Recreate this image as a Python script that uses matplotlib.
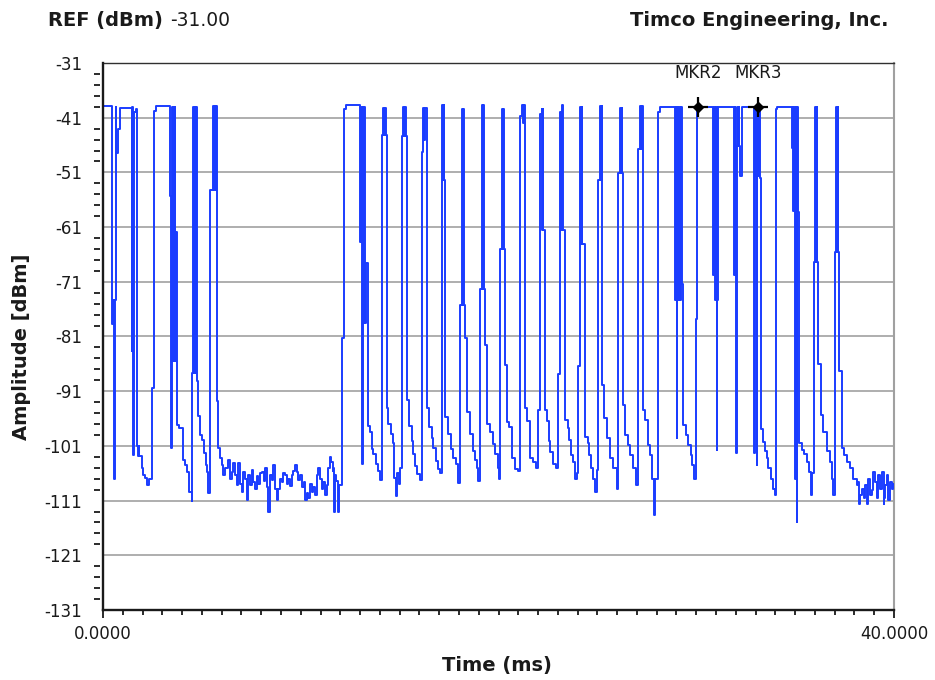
"""Time-domain sweep chart (Timco Engineering style): amplitude in dBm vs time in ms."""
import matplotlib
matplotlib.use("Agg")
import matplotlib.pyplot as plt  # noqa: E402
from matplotlib.ticker import FixedLocator, MultipleLocator  # noqa: E402

# ---- trace data (steps: level holds until the next time) ----
# first bursts, 0 - 6.2 ms
burst_ms = [
    0.00, 0.44, 0.50, 0.54, 0.60, 0.64, 0.68, 0.74, 0.84, 1.45,
    1.48, 1.50, 1.53, 1.58, 1.66, 1.72, 1.76, 1.80, 1.84, 1.96,
    2.04, 2.12, 2.21, 2.34, 2.46, 2.58, 2.68, 3.39, 3.45, 3.50,
    3.53, 3.56, 3.59, 3.62, 3.65, 3.69, 3.76, 3.86, 4.03, 4.15,
    4.27, 4.37, 4.49, 4.52, 4.57, 4.61, 4.65, 4.69, 4.72, 4.74,
    4.82, 4.91, 4.99, 5.11, 5.21, 5.28, 5.33, 5.41, 5.58, 5.62,
    5.66, 5.70, 5.73, 5.75, 5.83, 5.92, 6.00, 6.09, 6.17]
burst_dbm = [
    -38.9, -78.7, -74.4, -107.0, -74.4, -39.0, -47.4, -43.0, -39.2, -83.6,
    -39.0, -83.6, -102.7, -40.0, -39.5, -101.1, -102.9, -101.1, -102.9, -105.0,
    -106.3, -106.9, -108.2, -107.0, -90.4, -39.8, -38.9, -55.4, -101.4, -39.0,
    -85.5, -39.0, -85.5, -39.0, -85.5, -61.9, -97.1, -97.7, -103.5, -104.5,
    -105.7, -109.4, -111.0, -87.6, -39.0, -87.6, -39.0, -87.6, -39.0, -89.2,
    -95.6, -99.0, -99.9, -102.3, -104.5, -105.7, -109.7, -54.2, -38.9, -54.2,
    -38.9, -54.2, -38.9, -92.8, -101.4, -103.3, -104.5, -106.3, -105.1]

# quiet noise floor, 6.2 - 12 ms
floor_ms = [
    6.26, 6.34, 6.42, 6.51, 6.59, 6.68, 6.76, 6.85, 6.93, 7.02,
    7.10, 7.18, 7.27, 7.35, 7.44, 7.52, 7.61, 7.69, 7.78, 7.86,
    7.95, 8.03, 8.12, 8.20, 8.28, 8.36, 8.45, 8.53, 8.62, 8.70,
    8.79, 8.87, 8.96, 9.04, 9.12, 9.21, 9.29, 9.38, 9.46, 9.55,
    9.63, 9.71, 9.80, 9.88, 9.97, 10.05, 10.14, 10.22, 10.30, 10.39,
    10.47, 10.56, 10.64, 10.73, 10.81, 10.89, 10.98, 11.06, 11.15, 11.23,
    11.32, 11.40, 11.48, 11.53, 11.57, 11.62, 11.65, 11.70, 11.74, 11.80,
    11.87, 11.91, 12.00]
floor_dbm = [
    -105.1, -103.6, -107.0, -105.7, -104.2, -106.3, -108.2, -104.2, -107.9, -109.4,
    -105.7, -107.0, -110.9, -106.3, -108.2, -105.4, -107.6, -108.8, -106.5, -107.9,
    -106.0, -105.7, -107.5, -105.1, -108.5, -113.1, -106.3, -107.3, -104.5, -108.8,
    -110.9, -108.8, -107.0, -107.6, -106.0, -106.3, -107.9, -107.0, -108.4, -106.3,
    -105.5, -104.5, -105.7, -107.2, -106.3, -108.5, -107.6, -110.9, -109.7, -110.6,
    -108.0, -109.4, -108.5, -110.0, -106.3, -105.1, -107.0, -108.8, -107.6, -110.0,
    -108.2, -105.1, -103.0, -104.0, -103.9, -105.5, -105.1, -113.1, -106.3, -107.5,
    -113.1, -108.2, -108.2]

# pulse train, 12 - 28 ms
train_ms = [
    12.07, 12.19, 12.30, 13.00, 13.06, 13.10, 13.13, 13.17, 13.20, 13.24,
    13.28, 13.40, 13.50, 13.59, 13.67, 13.81, 13.93, 14.01,
    14.09, 14.14, 14.20, 14.25, 14.30, 14.35, 14.43, 14.55, 14.65, 14.72, 14.82, 14.86, 14.95, 15.02,
    15.11, 15.19, 15.24, 15.28, 15.32, 15.39, 15.49, 15.61, 15.70, 15.78, 15.90, 16.05,
    16.12, 16.16, 16.20, 16.25, 16.29, 16.37, 16.51, 16.62, 16.71, 16.84, 16.96, 17.06,
    17.13, 17.18, 17.22, 17.26, 17.30, 17.47, 17.58, 17.72, 17.85, 17.97,
    18.06, 18.14, 18.19, 18.23, 18.27, 18.31, 18.43, 18.56, 18.70, 18.82, 18.90, 18.98,
    19.07, 19.15, 19.20, 19.24, 19.28, 19.32, 19.44, 19.57, 19.71, 19.83, 19.95, 20.02,
    20.08, 20.16, 20.21, 20.25, 20.29, 20.33, 20.45, 20.55, 20.67, 20.84, 21.01,
    21.09, 21.18, 21.24, 21.29, 21.35, 21.43, 21.60, 21.75, 21.90,
    22.02, 22.10, 22.19, 22.22, 22.25, 22.27, 22.36, 22.44, 22.53, 22.61, 22.78, 22.92,
    23.03, 23.12, 23.16, 23.20, 23.24, 23.36, 23.49, 23.56, 23.66, 23.78, 23.87, 23.95,
    24.03, 24.12, 24.16, 24.20, 24.24, 24.37, 24.51, 24.57, 24.68, 24.79, 24.88, 24.96,
    25.01, 25.13, 25.17, 25.21, 25.25, 25.35, 25.47, 25.64, 25.81, 25.97,
    26.06, 26.14, 26.18, 26.22, 26.26, 26.31, 26.40, 26.53, 26.65, 26.82, 26.94,
    27.04, 27.15, 27.20, 27.24, 27.32, 27.41, 27.54, 27.66, 27.78, 27.88, 27.92]
train_dbm = [
    -81.3, -39.5, -38.7, -63.8, -39.0, -104.4, -39.0, -78.5, -39.0, -78.5,
    -67.5, -97.3, -98.5, -101.6, -102.5, -104.4, -105.6, -107.2,
    -44.1, -39.2, -44.1, -39.2, -44.1, -94.0, -97.0, -98.8, -100.4, -106.8, -110.2, -106.0, -108.0, -105.0,
    -44.4, -39.0, -44.4, -39.0, -44.4, -92.7, -97.3, -100.1, -102.5, -104.7, -106.2, -107.2,
    -47.2, -43.5, -39.2, -45.0, -39.2, -94.0, -97.6, -99.5, -101.3, -103.8, -105.3, -106.0,
    -38.7, -52.4, -38.7, -52.4, -95.8, -98.8, -101.6, -103.2, -104.4, -107.8,
    -75.2, -39.5, -75.2, -39.5, -75.2, -81.3, -94.8, -98.8, -101.9, -103.5, -105.0, -107.5,
    -72.4, -38.7, -72.4, -38.7, -72.4, -82.5, -97.0, -98.5, -100.7, -102.5, -105.0, -107.0,
    -65.0, -39.5, -65.0, -39.5, -65.0, -86.2, -96.7, -97.6, -103.2, -105.3, -105.6,
    -40.7, -38.7, -42.0, -38.7, -94.0, -96.4, -103.2, -104.0, -105.0,
    -94.5, -40.4, -39.5, -61.6, -39.5, -61.6, -94.5, -96.4, -100.1, -102.2, -104.4, -105.0,
    -87.8, -40.0, -61.6, -38.7, -61.6, -96.2, -97.7, -99.9, -102.7, -103.9, -107.0, -106.0,
    -86.4, -39.0, -64.0, -39.0, -64.0, -99.3, -100.5, -102.7, -105.1, -107.0, -109.4, -105.4,
    -52.3, -38.8, -52.3, -38.8, -89.8, -95.9, -99.6, -103.3, -105.1, -108.8,
    -51.1, -39.2, -51.1, -39.2, -51.1, -93.5, -99.0, -100.8, -102.7, -105.1, -108.2,
    -46.8, -38.8, -46.8, -38.8, -94.4, -96.2, -100.8, -102.7, -107.0, -113.7, -107.0]

# long block around the markers, 28 - 34.8 ms
block_ms = [
    28.05, 28.17, 28.93, 28.97, 29.01, 29.05, 29.10, 29.14, 29.19, 29.23,
    29.26, 29.32, 29.46, 29.60, 29.73, 29.80, 29.90, 29.97, 30.05, 30.86,
    30.92, 30.96, 31.00, 31.03, 31.07, 31.10, 31.91, 31.95, 31.98, 32.01,
    32.05, 32.10, 32.14, 32.18, 32.22, 32.30, 32.92, 32.96, 33.00, 33.04,
    33.06, 33.09, 33.13, 33.17, 33.21, 33.26, 33.40, 33.48, 33.57, 33.65,
    33.77, 33.90, 33.99, 34.02, 34.07]
block_dbm = [
    -40.0, -39.0, -74.4, -39.0, -99.6, -39.0, -74.4, -39.0, -74.4, -39.0,
    -71.4, -97.1, -99.0, -100.8, -102.7, -104.5, -107.0, -77.8, -39.0, -69.8,
    -39.0, -74.4, -39.0, -101.7, -74.4, -39.0, -69.8, -39.0, -46.2, -102.3,
    -39.0, -46.2, -39.0, -46.2, -51.7, -39.0, -102.3, -39.0, -51.7, -39.0,
    -104.5, -39.0, -51.7, -39.0, -52.0, -98.0, -100.2, -102.0, -103.3, -105.1,
    -107.0, -108.8, -110.0, -39.5, -39.0]

# last pulses and tail floor, 34.8 - 40 ms
tail_ms = [
    34.83, 34.87, 34.91, 34.95, 35.00, 35.04, 35.08, 35.12, 35.17, 35.22,
    35.35, 35.45, 35.62, 35.72, 35.79, 35.86, 35.93, 36.00, 36.05, 36.09,
    36.13, 36.18, 36.30, 36.43, 36.60, 36.74, 36.85, 36.94, 37.02, 37.07,
    37.11, 37.15, 37.19, 37.24, 37.36, 37.48, 37.61, 37.78, 37.95, 38.12,
    38.20, 38.24, 38.29, 38.37, 38.46, 38.54, 38.62, 38.66, 38.71, 38.79,
    38.88, 38.96, 39.05, 39.13, 39.21, 39.30, 39.38, 39.47, 39.51, 39.55,
    39.64, 39.72, 39.80, 39.89, 39.97, 40.00]
tail_dbm = [
    -46.5, -39.0, -58.0, -39.0, -107.0, -39.0, -114.9, -39.0, -58.2, -100.5,
    -101.7, -102.4, -103.9, -105.7, -110.0, -106.0, -67.4, -39.0, -67.4, -39.0,
    -67.4, -86.1, -95.3, -98.4, -102.0, -103.9, -107.0, -110.0, -65.5, -39.0,
    -65.5, -39.0, -65.5, -87.3, -101.4, -102.7, -103.9, -105.1, -107.0, -108.2,
    -107.6, -111.6, -110.0, -108.8, -110.6, -108.2, -111.6, -109.4, -107.0, -110.0,
    -109.1, -105.7, -107.6, -110.6, -106.3, -108.8, -105.7, -111.6, -110.6, -108.2,
    -106.3, -110.9, -107.6, -108.8, -107.9, -107.9]

# markers
mkr_names = ["MKR2", "MKR3"]
mkr_ms = [30.09, 33.12]
mkr_dbm = [-39.0, -39.0]

REF_DBM = -31.00
Y_TICKS = list(range(-131, -30, 10))
X_TICKS = [0, 40]
X_LABELS = ["0.0000", "40.0000"]

TRACE = "#1a3cff"
INK = "#1a1a1a"


def main():
    t_ms = burst_ms + floor_ms + train_ms + block_ms + tail_ms
    dbm = burst_dbm + floor_dbm + train_dbm + block_dbm + tail_dbm

    W, H = 935, 680
    fig = plt.figure(figsize=(W / 100, H / 100), dpi=100)
    ax = fig.add_axes([103 / W, 1 - 610 / H, (894 - 103) / W, (610 - 63) / H])

    ax.plot(t_ms, dbm, drawstyle="steps-post", color=TRACE, lw=1.4, zorder=3)

    # markers: filled diamond + crosshair
    ax.plot(mkr_ms, mkr_dbm, ls="none", marker="+", ms=15, mew=1.6, color="k", zorder=5)
    ax.plot(mkr_ms, mkr_dbm, ls="none", marker="D", ms=5.5, color="k", zorder=6)
    for name, x, y in zip(mkr_names, mkr_ms, mkr_dbm):
        ax.annotate(name, (x, y), xytext=(0, 21), textcoords="offset points",
                    ha="center", va="baseline", fontsize=12, color=INK)

    ax.set_xlim(0, 40)
    ax.set_ylim(-131, -31)
    ax.set_yticks(Y_TICKS)
    ax.set_yticklabels([str(v) for v in Y_TICKS])
    ax.yaxis.set_minor_locator(FixedLocator(list(range(-129, -31, 2))))
    ax.set_xticks(X_TICKS)
    ax.set_xticklabels(X_LABELS)
    ax.xaxis.set_minor_locator(MultipleLocator(1))

    ax.tick_params(axis="x", which="major", length=5.8, width=1.3, pad=5,
                   labelsize=12, color=INK, labelcolor=INK)
    ax.tick_params(axis="x", which="minor", length=3.6, width=1.3, color=INK)
    ax.tick_params(axis="y", which="major", length=0, pad=13,
                   labelsize=12, labelcolor=INK)
    ax.tick_params(axis="y", which="minor", length=4.3, width=1.3, color=INK)

    ax.grid(axis="y", which="major", color="#a8a8a8", lw=1.3)

    # left ticks sit a little away from the axis line
    ax.spines["left"].set_position(("outward", 2.2))
    ax.spines["left"].set_visible(False)
    ax.axvline(0, color=INK, lw=1.7, clip_on=False, zorder=4)
    ax.spines["bottom"].set_color(INK)
    ax.spines["bottom"].set_linewidth(1.7)
    ax.spines["top"].set_color("#303030")
    ax.spines["top"].set_linewidth(1.0)
    ax.spines["right"].set_color("#a0a0a0")
    ax.spines["right"].set_linewidth(1.5)

    # header + axis titles
    fig.text(48 / W, 1 - 26 / H, "REF (dBm)", fontsize=14, fontweight="bold",
             va="baseline", color=INK)
    fig.text(170 / W, 1 - 26 / H, f"{REF_DBM:.2f}", fontsize=13.5,
             va="baseline", color=INK)
    fig.text(888 / W, 1 - 26 / H, "Timco Engineering, Inc.", fontsize=14,
             fontweight="bold", ha="right", va="baseline", color=INK)
    fig.text(497 / W, 1 - 665 / H, "Time (ms)", fontsize=14, fontweight="bold",
             ha="center", va="center", color=INK)
    fig.text(22 / W, 1 - 347 / H, "Amplitude [dBm]", fontsize=14, fontweight="bold",
             rotation=90, ha="center", va="center", color=INK)

    fig.savefig("out.png", dpi=100)
    plt.close(fig)


if __name__ == "__main__":
    main()
